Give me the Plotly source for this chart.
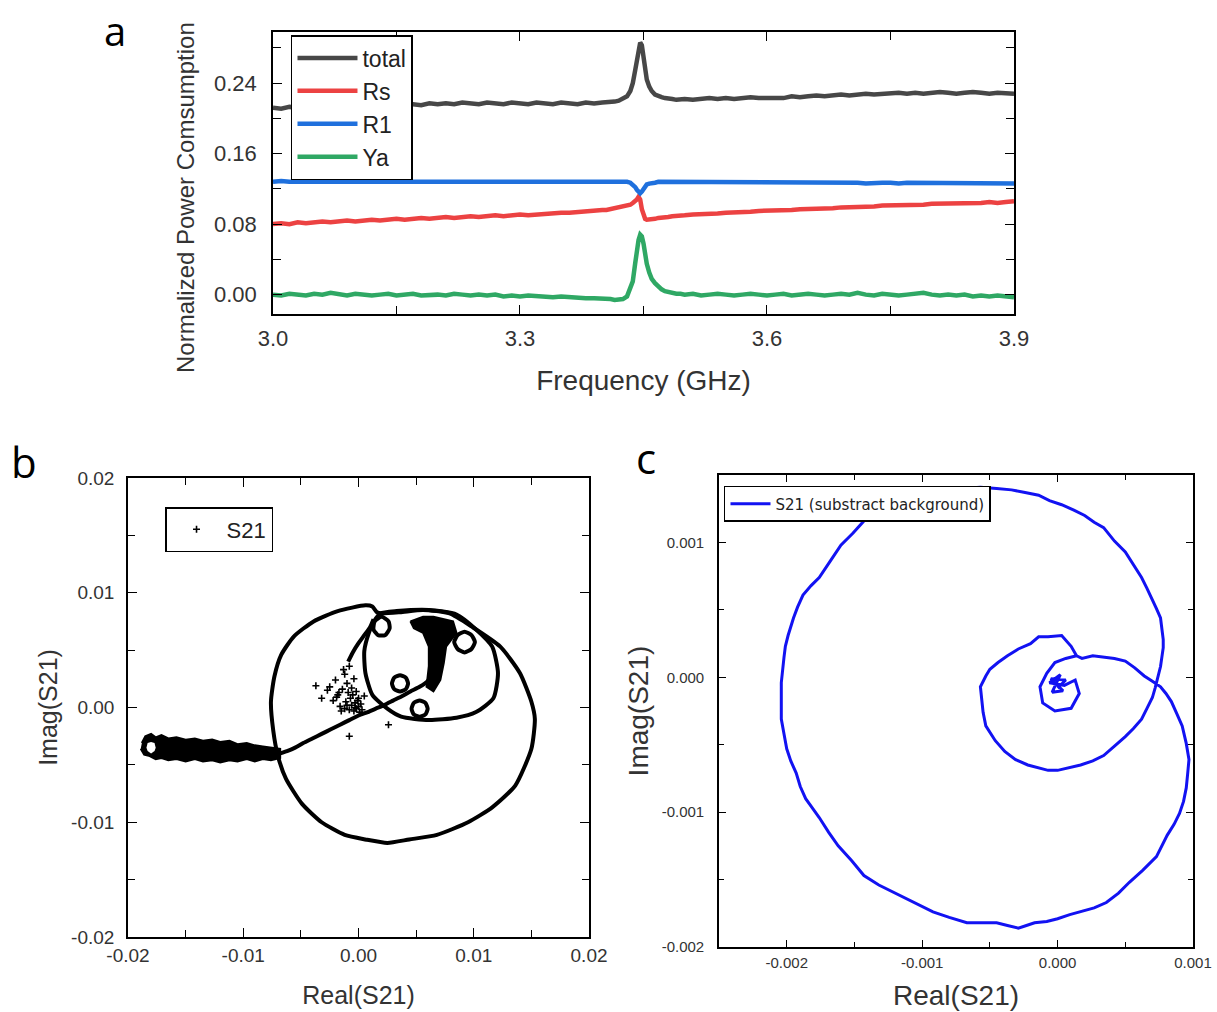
import plotly.graph_objects as go

FONT = "Liberation Sans, Arial, sans-serif"
LETTER_FONT = "Open Sans, Noto Sans, sans-serif"

# ---------------- panel a: power consumption vs frequency ----------------
freq_ghz = [
    3.00, 3.01, 3.02, 3.03, 3.04, 3.05, 3.06, 3.07, 3.08, 3.09,
    3.10, 3.11, 3.12, 3.13, 3.14, 3.15, 3.16, 3.17, 3.18, 3.19,
    3.20, 3.21, 3.22, 3.23, 3.24, 3.25, 3.26, 3.27, 3.28, 3.29,
    3.30, 3.31, 3.32, 3.33, 3.34, 3.35, 3.36, 3.37, 3.38, 3.39,
    3.40,
    3.405, 3.410, 3.415, 3.420, 3.425, 3.430, 3.434, 3.437, 3.440, 3.442,
    3.444, 3.446, 3.448, 3.450, 3.452, 3.454, 3.457, 3.460, 3.464, 3.468,
    3.472, 3.476, 3.480, 3.485, 3.490, 3.495,
    3.50, 3.51, 3.52, 3.53, 3.54, 3.55, 3.56, 3.57, 3.58, 3.59,
    3.60, 3.61, 3.62, 3.63, 3.64, 3.65, 3.66, 3.67, 3.68, 3.69,
    3.70, 3.71, 3.72, 3.73, 3.74, 3.75, 3.76, 3.77, 3.78, 3.79,
    3.80, 3.81, 3.82, 3.83, 3.84, 3.85, 3.86, 3.87, 3.88, 3.89,
    3.90,
]

total = [
    0.212, 0.211, 0.213, 0.212, 0.214, 0.213, 0.214, 0.213, 0.215, 0.214,
    0.215, 0.214, 0.216, 0.215, 0.216, 0.215, 0.217, 0.216, 0.215, 0.217,
    0.216, 0.217, 0.216, 0.218, 0.217, 0.216, 0.218, 0.217, 0.216, 0.218,
    0.217, 0.216, 0.218, 0.217, 0.216, 0.218, 0.217, 0.216, 0.218, 0.217,
    0.218,
    0.218, 0.219, 0.219, 0.220, 0.222, 0.225, 0.231, 0.240, 0.255, 0.268,
    0.280, 0.286, 0.283, 0.268, 0.254, 0.244, 0.236, 0.231, 0.227, 0.225,
    0.224, 0.223, 0.222, 0.222, 0.221, 0.222,
    0.222, 0.221, 0.222, 0.223, 0.222, 0.223, 0.222, 0.223, 0.224, 0.223,
    0.223, 0.224, 0.223, 0.225, 0.224, 0.225, 0.226, 0.225, 0.226, 0.227,
    0.226, 0.227, 0.228, 0.227, 0.228, 0.228, 0.229, 0.228, 0.229, 0.228,
    0.229, 0.230, 0.229, 0.228, 0.229, 0.230, 0.229, 0.228, 0.229, 0.229,
    0.228,
]

rs = [
    0.080, 0.081, 0.080, 0.082, 0.081, 0.082, 0.083, 0.082, 0.083, 0.084,
    0.083, 0.084, 0.085, 0.084, 0.085, 0.086, 0.085, 0.086, 0.087, 0.086,
    0.087, 0.088, 0.087, 0.088, 0.089, 0.088, 0.089, 0.090, 0.089, 0.090,
    0.091, 0.090, 0.091, 0.092, 0.092, 0.093, 0.093, 0.094, 0.094, 0.095,
    0.096,
    0.096, 0.097, 0.097, 0.098, 0.099, 0.101, 0.102, 0.104, 0.106, 0.108,
    0.111, 0.108, 0.097, 0.090, 0.086, 0.085, 0.085, 0.086, 0.086, 0.087,
    0.087, 0.088, 0.088, 0.089, 0.089, 0.090,
    0.090, 0.091, 0.091, 0.092, 0.092, 0.093, 0.093, 0.094, 0.094, 0.095,
    0.095, 0.096, 0.096, 0.096, 0.097, 0.097, 0.098, 0.098, 0.098, 0.099,
    0.099, 0.100, 0.100, 0.100, 0.101, 0.101, 0.101, 0.102, 0.102, 0.102,
    0.103, 0.103, 0.103, 0.104, 0.103, 0.104, 0.104, 0.105, 0.104, 0.105,
    0.106,
]

r1 = [
    0.128, 0.129, 0.128, 0.128, 0.129, 0.128, 0.128, 0.128, 0.129, 0.128,
    0.128, 0.128, 0.129, 0.128, 0.128, 0.128, 0.128, 0.129, 0.128, 0.128,
    0.128, 0.128, 0.129, 0.128, 0.128, 0.128, 0.128, 0.128, 0.129, 0.128,
    0.128, 0.128, 0.128, 0.128, 0.128, 0.128, 0.128, 0.128, 0.128, 0.128,
    0.128,
    0.128, 0.128, 0.128, 0.128, 0.128, 0.128, 0.127, 0.125, 0.122, 0.119,
    0.116, 0.115, 0.117, 0.120, 0.123, 0.125, 0.126, 0.127, 0.127, 0.128,
    0.128, 0.128, 0.128, 0.128, 0.128, 0.128,
    0.128, 0.128, 0.128, 0.127, 0.128, 0.128, 0.127, 0.128, 0.128, 0.127,
    0.128, 0.127, 0.127, 0.128, 0.127, 0.127, 0.127, 0.128, 0.127, 0.127,
    0.127, 0.127, 0.126, 0.127, 0.127, 0.127, 0.126, 0.127, 0.127, 0.126,
    0.127, 0.126, 0.126, 0.127, 0.126, 0.126, 0.126, 0.127, 0.126, 0.126,
    0.126,
]

ya = [
    0.000, -0.001, 0.001, 0.000, -0.001, 0.001, 0.000, 0.002, 0.000, -0.001,
    0.001, 0.000, -0.001, 0.000, 0.001, -0.001, 0.000, 0.001, -0.001, 0.000,
    0.000, -0.001, 0.001, 0.000, -0.001, 0.000, -0.001, 0.000, -0.002, -0.001,
    -0.002, -0.001, -0.002, -0.002, -0.003, -0.002, -0.003, -0.003, -0.004, -0.004,
    -0.004,
    -0.005, -0.005, -0.006, -0.006, -0.005, -0.002, 0.006, 0.015, 0.036, 0.052,
    0.062, 0.068, 0.066, 0.058, 0.045, 0.035, 0.025, 0.018, 0.013, 0.009,
    0.006, 0.004, 0.003, 0.002, 0.001, 0.001,
    0.000, 0.001, -0.001, 0.000, 0.001, 0.000, -0.001, 0.000, 0.001, 0.000,
    -0.001, 0.000, 0.001, -0.001, 0.000, 0.001, 0.000, -0.001, 0.000, 0.001,
    0.000, 0.002, 0.000, -0.001, 0.001, 0.000, -0.001, 0.000, 0.001, 0.002,
    0.000, -0.001, 0.000, -0.001, 0.000, -0.002, -0.001, -0.002, -0.001, -0.002,
    -0.003,
]

series_names = ["total", "Rs", "R1", "Ya"]
series_colors = ["#474747", "#ec4242", "#1f70dd", "#2fa864"]

a_xtick_vals = [3.0, 3.3, 3.6, 3.9]
a_xtick_text = ["3.0", "3.3", "3.6", "3.9"]
a_ytick_vals = [0.00, 0.08, 0.16, 0.24]
a_ytick_text = ["0.00", "0.08", "0.16", "0.24"]

# ---------------- panel b: raw S21 in the complex plane ----------------
# noisy far-off-resonance band (upper edge left->right, lower edge right->left)
band_re = [
    -0.0188, -0.0185, -0.0180, -0.0176, -0.0171, -0.0165, -0.0158, -0.0150, -0.0142, -0.0135,
    -0.0127, -0.0120, -0.0112, -0.0105, -0.0097, -0.0090, -0.0083, -0.0076, -0.0068,
    -0.0068, -0.0076, -0.0083, -0.0090, -0.0097, -0.0105, -0.0112, -0.0120, -0.0127, -0.0135,
    -0.0142, -0.0150, -0.0158, -0.0165, -0.0171, -0.0176, -0.0182, -0.0186, -0.0189,
]
band_im = [
    -0.0031, -0.0025, -0.0023, -0.0026, -0.0024, -0.0027, -0.0026, -0.0028, -0.0027, -0.0029,
    -0.0028, -0.0030, -0.0029, -0.0032, -0.0031, -0.0033, -0.0034, -0.0035, -0.0036,
    -0.0044, -0.0046, -0.0045, -0.0047, -0.0045, -0.0047, -0.0046, -0.0048, -0.0046, -0.0047,
    -0.0045, -0.0047, -0.0045, -0.0046, -0.0044, -0.0045, -0.0042, -0.0041, -0.0036,
]
hole_re = [-0.0180, -0.0177, -0.0176, -0.0177, -0.0180, -0.0183, -0.0184, -0.0183, -0.0180]
hole_im = [-0.0030, -0.0031, -0.0035, -0.0038, -0.0040, -0.0038, -0.0035, -0.0031, -0.0030]
knot_re = [
    0.0045, 0.0056, 0.0065, 0.0075, 0.0082, 0.0085, 0.0080, 0.0076, 0.0074, 0.0071,
    0.0065, 0.0059, 0.0061, 0.0061, 0.0056, 0.0048, 0.0045,
]
knot_im = [
    0.0075, 0.0079, 0.0079, 0.0077, 0.0075, 0.0065, 0.0058, 0.0053, 0.0039, 0.0024,
    0.0014, 0.0018, 0.0036, 0.0053, 0.0065, 0.0069, 0.0075,
]

# traced trajectory pieces
tail_re = [
    -0.0068, -0.0062, -0.0055, -0.0048, -0.0040, -0.0032, -0.0024, -0.0016,
    -0.0008, 0.0000, 0.0008, 0.0015, 0.0022, 0.0030, 0.0038, 0.0045, 0.0053, 0.0060,
    0.0064, 0.0066, 0.0065, 0.0063, 0.0061,
]
tail_im = [
    -0.0040, -0.0038, -0.0035, -0.0031, -0.0027, -0.0023, -0.0019, -0.0015,
    -0.0011, -0.0007, -0.0004, -0.0001, 0.0002, 0.0006, 0.0010, 0.0014, 0.0018, 0.0023,
    0.0030, 0.0038, 0.0046, 0.0054, 0.0062,
]
outer_re = [
    -0.0070, -0.0074, -0.0076, -0.0073, -0.0067, -0.0056, -0.0039, -0.0018, 0.0006, 0.0012,
    0.0016, 0.0020, 0.0036, 0.0056, 0.0079, 0.0099, 0.0123, 0.0140, 0.0150, 0.0153,
    0.0150, 0.0136, 0.0116, 0.0095, 0.0068, 0.0044, 0.0025, 0.0006, -0.0012, -0.0032,
    -0.0049, -0.0063, -0.0070,
]
outer_im = [
    -0.0042, -0.0020, 0.0005, 0.0027, 0.0046, 0.0062, 0.0075, 0.0084, 0.0089, 0.0088,
    0.0083, 0.0082, 0.0083, 0.0085, 0.0082, 0.0070, 0.0053, 0.0030, 0.0005, -0.0010,
    -0.0036, -0.0068, -0.0087, -0.0100, -0.0111, -0.0115, -0.0118, -0.0115, -0.0111, -0.0100,
    -0.0084, -0.0062, -0.0042,
]
inner_re = [
    0.0012, 0.0006, 0.0005, 0.0009, 0.0014, 0.0019, 0.0033, 0.0061, 0.0085, 0.0102,
    0.0116, 0.0121, 0.0117, 0.0102, 0.0085, 0.0061, 0.0037, 0.0025, 0.0012,
]
inner_im = [
    0.0011, 0.0030, 0.0049, 0.0065, 0.0076, 0.0082, 0.0084, 0.0085, 0.0081, 0.0068,
    0.0053, 0.0030, 0.0008, -0.0004, -0.0009, -0.0011, -0.0008, -0.0001, 0.0011,
]
link_re = [-0.0009, -0.0005, 0.0000, 0.0005, 0.0010, 0.0013]
link_im = [0.0040, 0.0048, 0.0056, 0.0063, 0.0070, 0.0077]
ring1_re = [0.0036, 0.0041, 0.0043, 0.0041, 0.0036, 0.0031, 0.0029, 0.0031, 0.0036]
ring1_im = [0.0028, 0.0026, 0.0021, 0.0016, 0.0014, 0.0016, 0.0021, 0.0026, 0.0028]
ring2_re = [0.0053, 0.0058, 0.0060, 0.0058, 0.0053, 0.0048, 0.0046, 0.0048, 0.0053]
ring2_im = [0.0006, 0.0004, -0.0001, -0.0006, -0.0008, -0.0006, -0.0001, 0.0004, 0.0006]
ring3_re = [0.0092, 0.0098, 0.0101, 0.0098, 0.0092, 0.0086, 0.0083, 0.0086, 0.0092]
ring3_im = [0.0066, 0.0063, 0.0057, 0.0051, 0.0048, 0.0051, 0.0057, 0.0063, 0.0066]
ring4_re = [0.0020, 0.0026, 0.0027, 0.0023, 0.0017, 0.0013, 0.0014, 0.0020]
ring4_im = [0.0079, 0.0075, 0.0069, 0.0063, 0.0063, 0.0068, 0.0075, 0.0079]
dots_re = [
    -0.0037, -0.0032, -0.0027, -0.0025, -0.0022, -0.0020, -0.0018, -0.0016, -0.0014, -0.0012,
    -0.0011, -0.0009, -0.0008, -0.0007, -0.0006, -0.0005, -0.0004, -0.0003, -0.0002, -0.0001,
    0.0000, 0.0001, 0.0002, 0.0003, -0.0015, -0.0010, -0.0006, -0.0013, -0.0008, 0.0026,
    -0.0008, -0.0019, -0.0004, 0.0005, -0.0003, -0.0010, -0.0017, 0.0000, -0.0012, -0.0002,
]
dots_im = [
    0.0019, 0.0008, 0.0015, 0.0018, 0.0006, 0.0024, 0.0011, 0.0001, 0.0016, 0.0029,
    0.0005, 0.0013, -0.0002, 0.0008, 0.0002, 0.0011, -0.0003, 0.0004, -0.0001, 0.0006,
    0.0001, -0.0004, 0.0003, -0.0002, -0.0003, 0.0021, 0.0017, 0.0033, 0.0036, -0.0015,
    -0.0025, 0.0009, 0.0025, 0.0010, 0.0000, 0.0002, 0.0013, 0.0008, -0.0001, 0.0014,
]

b_tick_vals = [-0.02, -0.01, 0.0, 0.01, 0.02]
b_tick_text = ["-0.02", "-0.01", "0.00", "0.01", "0.02"]

# ---------------- panel c: S21 after background subtraction ----------------
re_c = [
    0.00000, 0.00006, -0.00005, 0.00004, -0.00004, 0.00002, -0.00006, 0.00005, 0.00013, 0.00016,
    0.00010, -0.00002, -0.00011, -0.00013, -0.00008, -0.00002, 0.00006, 0.00014, 0.00010, 0.00003,
    -0.00007, -0.00014, -0.00020, -0.00029, -0.00037, -0.00044, -0.00050, -0.00053, -0.00057, -0.00056,
    -0.00055, -0.00053, -0.00046, -0.00039, -0.00031, -0.00022, -0.00014, -0.00007, 0.00000, 0.00009,
    0.00017, 0.00026, 0.00034, 0.00042, 0.00050, 0.00056, 0.00062, 0.00066, 0.00070, 0.00072,
    0.00074, 0.00076, 0.00077, 0.00078, 0.00078, 0.00077, 0.00076, 0.00073, 0.00070, 0.00066,
    0.00062, 0.00056, 0.00050, 0.00042, 0.00034, 0.00027, 0.00020, 0.00012, 0.00003, -0.00006,
    -0.00014, -0.00024, -0.00034, -0.00045, -0.00057, -0.00070, -0.00082, -0.00095, -0.00109, -0.00118,
    -0.00126, -0.00135, -0.00143, -0.00151, -0.00160, -0.00168, -0.00176, -0.00182, -0.00188, -0.00192,
    -0.00195, -0.00199, -0.00201, -0.00202, -0.00203, -0.00204, -0.00204, -0.00204, -0.00202, -0.00200,
    -0.00197, -0.00193, -0.00190, -0.00186, -0.00181, -0.00176, -0.00169, -0.00162, -0.00152, -0.00143,
    -0.00132, -0.00120, -0.00106, -0.00092, -0.00080, -0.00067, -0.00056, -0.00045, -0.00037, -0.00029,
    -0.00023, -0.00017, -0.00008, 0.00000, 0.00009, 0.00017, 0.00027, 0.00036, 0.00045, 0.00053,
    0.00063, 0.00073, 0.00077, 0.00081, 0.00086, 0.00090, 0.00093, 0.00095, 0.00096, 0.00097,
    0.00095, 0.00092, 0.00088, 0.00084, 0.00080, 0.00076, 0.00070, 0.00064, 0.00057, 0.00050,
    0.00042, 0.00034, 0.00026, 0.00018, 0.00014,
]
im_c = [
    -0.00008, -0.00002, -0.00001, -0.00010, -0.00011, 0.00002, -0.00004, -0.00006, -0.00002, -0.00012,
    -0.00023, -0.00025, -0.00019, -0.00007, 0.00003, 0.00011, 0.00014, 0.00016, 0.00023, 0.00031,
    0.00030, 0.00030, 0.00025, 0.00021, 0.00016, 0.00011, 0.00006, 0.00001, -0.00007, -0.00018,
    -0.00026, -0.00036, -0.00047, -0.00055, -0.00061, -0.00065, -0.00067, -0.00069, -0.00069, -0.00067,
    -0.00065, -0.00062, -0.00058, -0.00051, -0.00044, -0.00038, -0.00031, -0.00023, -0.00015, -0.00008,
    -0.00001, 0.00008, 0.00015, 0.00022, 0.00028, 0.00036, 0.00044, 0.00051, 0.00058, 0.00066,
    0.00074, 0.00084, 0.00093, 0.00101, 0.00111, 0.00115, 0.00120, 0.00124, 0.00128, 0.00131,
    0.00135, 0.00137, 0.00139, 0.00140, 0.00141, 0.00140, 0.00139, 0.00136, 0.00133, 0.00128,
    0.00124, 0.00120, 0.00116, 0.00107, 0.00098, 0.00086, 0.00074, 0.00068, 0.00061, 0.00052,
    0.00044, 0.00031, 0.00023, 0.00015, 0.00005, -0.00004, -0.00018, -0.00031, -0.00042, -0.00053,
    -0.00062, -0.00071, -0.00081, -0.00090, -0.00097, -0.00104, -0.00115, -0.00125, -0.00136, -0.00147,
    -0.00154, -0.00160, -0.00167, -0.00174, -0.00178, -0.00182, -0.00182, -0.00182, -0.00184, -0.00186,
    -0.00184, -0.00182, -0.00181, -0.00179, -0.00176, -0.00174, -0.00171, -0.00167, -0.00160, -0.00152,
    -0.00143, -0.00133, -0.00125, -0.00117, -0.00109, -0.00101, -0.00092, -0.00082, -0.00072, -0.00061,
    -0.00049, -0.00036, -0.00027, -0.00018, -0.00012, -0.00007, -0.00003, 0.00001, 0.00007, 0.00012,
    0.00014, 0.00015, 0.00016, 0.00014, 0.00016,
]

c_xtick_vals = [-0.002, -0.001, 0.0, 0.001]
c_xtick_text = ["-0.002", "-0.001", "0.000", "0.001"]
c_ytick_vals = [-0.002, -0.001, 0.0, 0.001]
c_ytick_text = ["-0.002", "-0.001", "0.000", "0.001"]

# ---------------------------------------------------------------------------
fig = go.Figure()

for name, vals, color in zip(series_names, [total, rs, r1, ya], series_colors):
    fig.add_trace(go.Scatter(
        x=freq_ghz, y=vals, name=name, mode="lines",
        line=dict(color=color, width=4.5),
        xaxis="x", yaxis="y", legend="legend",
    ))

# panel b: dense parts as filled shapes, the rest as connected pieces
for shape_re, shape_im, fill in [(band_re, band_im, "black"),
                                 (hole_re, hole_im, "white"),
                                 (knot_re, knot_im, "black")]:
    fig.add_trace(go.Scatter(
        x=shape_re, y=shape_im, mode="lines", fill="toself", fillcolor=fill,
        line=dict(color="black", width=2 if fill == "black" else 0),
        showlegend=False, hoverinfo="skip", xaxis="x2", yaxis="y2",
    ))

segments_b = [
    (tail_re, tail_im), (outer_re, outer_im), (inner_re, inner_im),
    (link_re, link_im), (ring1_re, ring1_im), (ring2_re, ring2_im),
    (ring3_re, ring3_im), (ring4_re, ring4_im),
]
path_re, path_im = [], []
for seg_re, seg_im in segments_b:
    path_re += seg_re + [None]
    path_im += seg_im + [None]

fig.add_trace(go.Scatter(
    x=path_re, y=path_im, mode="lines", showlegend=False,
    line=dict(color="black", width=4, shape="spline", smoothing=0.6),
    xaxis="x2", yaxis="y2", hoverinfo="skip",
))
fig.add_trace(go.Scatter(
    x=dots_re, y=dots_im, mode="markers", name="S21",
    marker=dict(color="black", size=5, symbol="cross-thin",
                line=dict(color="black", width=1.6)),
    xaxis="x2", yaxis="y2", legend="legend2",
))

fig.add_trace(go.Scatter(
    x=re_c, y=im_c, mode="lines", name="S21 (substract background)",
    line=dict(color="#1212f2", width=3),
    xaxis="x3", yaxis="y3", legend="legend3",
))


def framed_axis(domain, rng, tickvals, ticktext, minor_vals, tick_size,
                ticklen, minorlen, label_gap, title, title_size, standoff, anchor):
    return dict(
        domain=domain, range=rng, anchor=anchor, automargin=False,
        tickmode="array", tickvals=tickvals, ticktext=ticktext,
        ticks="inside", ticklen=ticklen, tickwidth=1.3, tickcolor="black",
        ticklabelstandoff=label_gap,
        minor=dict(tickmode="array", tickvals=minor_vals, ticks="inside",
                   ticklen=minorlen, tickwidth=1.3, tickcolor="black",
                   showgrid=False),
        showline=True, linecolor="black", linewidth=1.6, mirror="allticks",
        showgrid=False, zeroline=False,
        tickfont=dict(family=FONT, size=tick_size, color="#333333"),
        title=dict(text=title, standoff=standoff,
                   font=dict(family=FONT, size=title_size, color="#333333")),
    )


def panel_letter(text, x, y, yanchor="middle", size=42):
    return dict(text=text, x=x, y=y, xref="paper", yref="paper",
                xanchor="center", yanchor=yanchor, showarrow=False,
                font=dict(family=LETTER_FONT, size=size, color="black"))


fig.update_layout(
    width=1217, height=1012,
    margin=dict(l=0, r=0, t=0, b=0),
    paper_bgcolor="white", plot_bgcolor="white",
    xaxis=framed_axis([0.2243, 0.8332], [3.0, 3.9], a_xtick_vals, a_xtick_text,
                      [3.15, 3.45, 3.75], 22, 9, 8, 4, "Frequency (GHz)", 28, 20, "y"),
    yaxis=framed_axis([0.6897, 0.9684], [-0.022, 0.298], a_ytick_vals, a_ytick_text,
                      [0.04, 0.12, 0.20, 0.28], 22, 9, 8, 10, "", 24, 14, "x"),
    xaxis2=framed_axis([0.1052, 0.4840], [-0.02, 0.02], b_tick_vals, b_tick_text,
                       [-0.015, -0.005, 0.005, 0.015], 19, 9, 7, 0, "Real(S21)", 25, 22, "y2"),
    yaxis2=framed_axis([0.0741, 0.5277], [-0.02, 0.02], b_tick_vals, b_tick_text,
                       [-0.015, -0.005, 0.005, 0.015], 19, 9, 7, 8, "Imag(S21)", 25, 6, "x2"),
    xaxis3=framed_axis([0.5908, 0.9803], [-0.0025, 0.001], c_xtick_vals, c_xtick_text,
                       [-0.0015, -0.0005, 0.0005], 15, 7, 5, 1, "Real(S21)", 28, 16, "y3"),
    yaxis3=framed_axis([0.0642, 0.5306], [-0.002, 0.0015], c_ytick_vals, c_ytick_text,
                       [-0.0015, -0.0005, 0.0005], 15, 7, 5, 10, "Imag(S21)", 28, 5, "x3"),
    legend=dict(x=0.2391, y=0.9654, xanchor="left", yanchor="top",
                bgcolor="white", bordercolor="black", borderwidth=1.5,
                font=dict(family=FONT, size=23, color="#222222"),
                tracegroupgap=0, itemwidth=60),
    legend2=dict(x=0.1356, y=0.499, xanchor="left", yanchor="top",
                 bgcolor="white", bordercolor="black", borderwidth=1.5,
                 font=dict(family=FONT, size=22, color="#222222"), itemwidth=50),
    legend3=dict(x=0.5949, y=0.5198, xanchor="left", yanchor="top",
                 bgcolor="white", bordercolor="black", borderwidth=1.5,
                 font=dict(family="DejaVu Sans, sans-serif", size=15, color="#222222"),
                 itemwidth=40),
    annotations=[
        dict(text="Normalized Power Comsumption", x=0.152, y=0.8053,
             xref="paper", yref="paper", xanchor="center", yanchor="middle",
             textangle=-90, showarrow=False,
             font=dict(family=FONT, size=24, color="#333333")),
        panel_letter("a", 0.0949, 0.999, yanchor="top", size=40),
        panel_letter("b", 0.0197, 0.544),
        panel_letter("c", 0.5308, 0.5484),
    ],
)

fig.write_html("out.html")
